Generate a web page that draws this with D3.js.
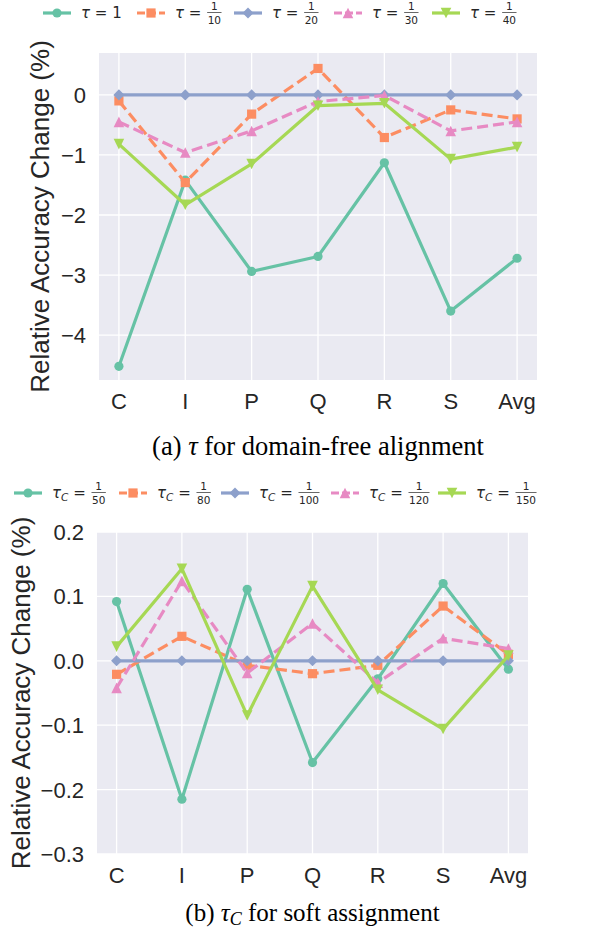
<!DOCTYPE html>
<html>
<head>
<meta charset="utf-8">
<script src="https://cdn.jsdelivr.net/npm/d3@7.9.0/dist/d3.min.js"></script>
<style>
  body { margin: 0; background: #fff; }
  text { white-space: pre; }
</style>
</head>
<body>
<svg id="chart" width="605" height="939"></svg>
<script>
const categories = ['C', 'I', 'P', 'Q', 'R', 'S', 'Avg'];

// (a) tau for domain-free alignment
const tauDenoms = ['1', '10', '20', '30', '40'];
const tau1 = [-4.52, -1.42, -2.94, -2.69, -1.13, -3.60, -2.72];
const tau10 = [-0.10, -1.46, -0.32, 0.44, -0.71, -0.25, -0.40];
const tau20 = [0, 0, 0, 0, 0, 0, 0];
const tau30 = [-0.45, -0.96, -0.60, -0.11, -0.01, -0.60, -0.45];
const tau40 = [-0.82, -1.83, -1.15, -0.18, -0.14, -1.07, -0.87];
const yTicksA = [0, -1, -2, -3, -4];

// (b) tau_C for soft assignment
const tauCDenoms = ['50', '80', '100', '120', '150'];
const tauC50 = [0.092, -0.215, 0.111, -0.158, -0.028, 0.120, -0.013];
const tauC80 = [-0.021, 0.038, -0.007, -0.020, -0.007, 0.085, 0.010];
const tauC100 = [0, 0, 0, 0, 0, 0, 0];
const tauC120 = [-0.042, 0.124, -0.019, 0.058, -0.034, 0.035, 0.019];
const tauC150 = [0.022, 0.143, -0.085, 0.116, -0.045, -0.106, 0.008];
const yTicksB = [0.2, 0.1, 0.0, -0.1, -0.2, -0.3];

const colors = ['#66c2a5', '#fc8d62', '#8da0cb', '#e78ac3', '#a6d854'];
const markers = ['circle', 'square', 'diamond', 'triUp', 'triDown'];
const dashed = [false, true, false, true, false];

const svg = d3.select('#chart');
const ink = '#262626';
const lw = 3.2;

function markerPath(type, r) {
  switch (type) {
    case 'circle': return d3.symbol(d3.symbolCircle, Math.PI * r * r)();
    case 'square': return `M${-r},${-r}h${2 * r}v${2 * r}h${-2 * r}Z`;
    case 'diamond': { const s = r * 1.2; return `M0,${-s}L${s},0L0,${s}L${-s},0Z`; }
    case 'triUp': { const s = r * 1.15; return `M0,${-s}L${s},${s}L${-s},${s}Z`; }
    case 'triDown': { const s = r * 1.15; return `M0,${s}L${s},${-s}L${-s},${-s}Z`; }
  }
}

function drawPanel(cfg) {
  const g = svg.append('g');
  const x = d3.scalePoint().domain(categories).range([cfg.left, cfg.right]).padding(0.3);
  const y = d3.scaleLinear().domain(cfg.yDomain).range([cfg.bottom, cfg.top]);

  g.append('rect')
    .attr('x', cfg.left).attr('y', cfg.top)
    .attr('width', cfg.right - cfg.left).attr('height', cfg.bottom - cfg.top)
    .attr('fill', '#eaeaf2');

  // grid
  g.selectAll('.gx').data(categories).join('line')
    .attr('x1', d => x(d)).attr('x2', d => x(d))
    .attr('y1', cfg.top).attr('y2', cfg.bottom)
    .attr('stroke', '#fff').attr('stroke-width', 1.3);
  g.selectAll('.gy').data(cfg.yTicks).join('line')
    .attr('x1', cfg.left).attr('x2', cfg.right)
    .attr('y1', d => y(d)).attr('y2', d => y(d))
    .attr('stroke', '#fff').attr('stroke-width', 1.3);

  // tick labels
  g.selectAll('.tx').data(categories).join('text')
    .attr('x', d => x(d)).attr('y', cfg.bottom + 29)
    .attr('text-anchor', 'middle')
    .style('font-family', 'Liberation Sans, Arial, sans-serif')
    .style('font-size', '22px').attr('fill', ink)
    .text(d => d);
  g.selectAll('.ty').data(cfg.yTicks).join('text')
    .attr('x', cfg.left - 13).attr('y', d => y(d) + 8)
    .attr('text-anchor', 'end')
    .style('font-family', 'Liberation Sans, Arial, sans-serif')
    .style('font-size', '22px').attr('fill', ink)
    .text(cfg.fmt);

  // y label
  const cy = (cfg.top + cfg.bottom) / 2;
  g.append('text')
    .attr('transform', `translate(${cfg.labelX},${cy}) rotate(-90)`)
    .attr('text-anchor', 'middle')
    .style('font-family', 'Liberation Sans, Arial, sans-serif')
    .style('font-size', '26px').attr('fill', ink)
    .text('Relative Accuracy Change (%)');

  // series
  const line = d3.line().x((d, i) => x(categories[i])).y(d => y(d));
  cfg.series.forEach((vals, k) => {
    g.append('path')
      .attr('d', line(vals))
      .attr('fill', 'none')
      .attr('stroke', colors[k]).attr('stroke-width', lw)
      .attr('stroke-linejoin', 'round')
      .attr('stroke-dasharray', dashed[k] ? '11,5' : null);
    g.selectAll(null).data(vals).join('path')
      .attr('transform', (d, i) => `translate(${x(categories[i])},${y(d)})`)
      .attr('d', markerPath(markers[k], 4.6))
      .attr('fill', colors[k]);
  });

  // caption
  const cap = g.append('text')
    .attr('x', (cfg.left + cfg.right) / 2).attr('y', cfg.capY)
    .attr('text-anchor', 'middle')
    .style('font-family', 'Liberation Serif, Times New Roman, serif')
    .style('font-size', cfg.capSize + 'px').attr('fill', '#000');
  cap.append('tspan').text(cfg.capPre + ' ');
  cap.append('tspan').text('τ').style('font-style', 'italic');
  if (cfg.capSub) {
    cap.append('tspan').text(cfg.capSub).style('font-style', 'italic')
      .style('font-size', '18px').attr('dy', 4);
    cap.append('tspan').text(' ' + cfg.capPost).attr('dy', -4);
  } else {
    cap.append('tspan').text(' ' + cfg.capPost);
  }
}

function drawLegend(yc, xs, sub, denoms) {
  xs.forEach((x0, k) => {
    const g = svg.append('g');
    g.append('line')
      .attr('x1', x0).attr('x2', x0 + 28).attr('y1', yc).attr('y2', yc)
      .attr('stroke', colors[k]).attr('stroke-width', lw)
      .attr('stroke-dasharray', dashed[k] ? '8,3' : null);
    g.append('path')
      .attr('transform', `translate(${x0 + 14},${yc})`)
      .attr('d', markerPath(markers[k], 4.6))
      .attr('fill', colors[k]);

    const tx = x0 + 38;
    const t = g.append('text')
      .attr('x', tx).attr('y', yc + 5)
      .style('font-family', 'DejaVu Sans, sans-serif')
      .style('font-size', '15px').attr('fill', ink);
    t.append('tspan').text('τ').style('font-style', 'italic');
    if (sub) {
      t.append('tspan').text(sub).style('font-style', 'italic')
        .style('font-size', '10.5px').attr('dy', 3);
      t.append('tspan').text(' = ').attr('dy', -3);
    } else {
      t.append('tspan').text(' = ');
    }
    const d = denoms[k];
    if (d === '1') {
      t.append('tspan').text('1');
      return;
    }
    const w0 = t.node().getComputedTextLength();
    const fx = tx + w0 + 1;
    const den = g.append('text')
      .attr('y', yc + 10.5).attr('text-anchor', 'middle')
      .style('font-family', 'DejaVu Sans, sans-serif')
      .style('font-size', '10.5px').attr('fill', ink).text(d);
    const fw = den.node().getComputedTextLength() + 1;
    den.attr('x', fx + fw / 2);
    g.append('text')
      .attr('x', fx + fw / 2).attr('y', yc - 3).attr('text-anchor', 'middle')
      .style('font-family', 'DejaVu Sans, sans-serif')
      .style('font-size', '10.5px').attr('fill', ink).text('1');
    g.append('line')
      .attr('x1', fx).attr('x2', fx + fw).attr('y1', yc - 0.5).attr('y2', yc - 0.5)
      .attr('stroke', ink).attr('stroke-width', 0.7);
  });
}

drawPanel({
  left: 99, right: 537, top: 53, bottom: 380,
  yDomain: [-4.7475, 0.6975], yTicks: yTicksA, labelX: 49,
  fmt: d => d3.format('d')(d).replace('-', '−'),
  series: [tau1, tau10, tau20, tau30, tau40],
  capY: 455, capSize: 26.5, capPre: '(a)', capPost: 'for domain-free alignment'
});
drawPanel({
  left: 97, right: 528, top: 532, bottom: 854,
  yDomain: [-0.3, 0.2], yTicks: yTicksB, labelX: 30,
  fmt: d => d3.format('.1f')(d).replace('-', '−'),
  series: [tauC50, tauC80, tauC100, tauC120, tauC150],
  capY: 921, capSize: 25, capPre: '(b)', capSub: 'C', capPost: 'for soft assignment'
});

drawLegend(13, [43, 137, 234, 334, 432], null, tauDenoms);
drawLegend(493, [14, 119, 221, 331, 438], 'C', tauCDenoms);
</script>
</body>
</html>
